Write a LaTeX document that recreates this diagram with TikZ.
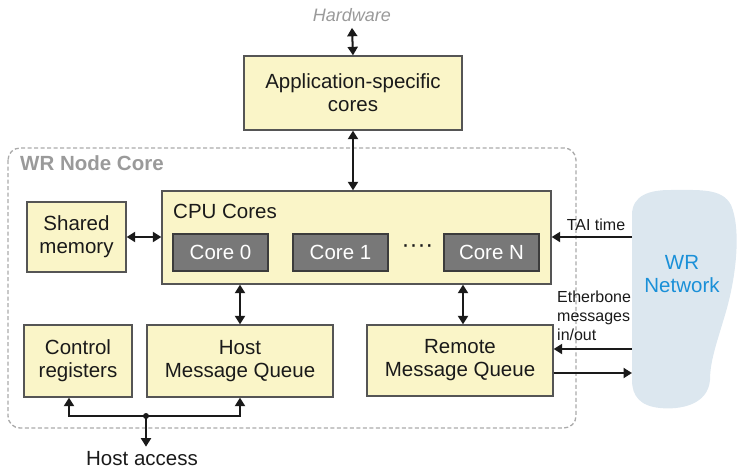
\documentclass[tikz,border=0pt]{standalone}
\usepackage{fontspec}
\setmainfont{Liberation Sans}
\usetikzlibrary{arrows.meta}
\definecolor{boxfill}{HTML}{FAF5C8}
\definecolor{boxline}{HTML}{555555}
\definecolor{corefill}{HTML}{787878}
\definecolor{coreline}{HTML}{3C3C3C}
\definecolor{graytxt}{HTML}{9A9A9A}
\definecolor{netblue}{HTML}{1A90D8}
\definecolor{cloudfill}{HTML}{DCE7EF}
\definecolor{txt}{HTML}{1A1A1A}
\definecolor{dashgray}{HTML}{AAAAAA}
\begin{document}
\begin{tikzpicture}[x=1pt,y=-1pt,
  blk/.style={draw=boxline, line width=1.3pt, fill=boxfill, inner sep=0pt, text=txt,
    font=\fontsize{20.5}{23}\selectfont, align=center},
  corebox/.style={draw=coreline, line width=1.3pt, fill=corefill, inner sep=0pt, text=white,
    font=\fontsize{20.5}{23}\selectfont, minimum width=95pt, minimum height=37pt},
  tip/.tip={Triangle[length=8.5pt,width=10pt]},
  arr/.style={line width=2pt, draw=txt, -tip},
  biarr/.style={line width=2pt, draw=txt, tip-tip},
  smalltxt/.style={text=txt, font=\fontsize{16}{19}\selectfont, inner sep=0pt}
]
\useasboundingbox (0,0) rectangle (737,469);

% WR Node Core frame
\draw[dashgray, line width=1.3pt, dash pattern=on 4pt off 2.5pt, rounded corners=12pt] (8,148) rectangle (576,428);
\node[anchor=west, text=graytxt, font=\fontsize{20.5}{23}\selectfont\bfseries, inner sep=0pt] (wrcore) at (20,163) {WR Node Core};

% Cloud
\path[fill=cloudfill] (632,380) -- (632,215)
  .. controls (632,195) and (650,190) .. (670,190)
  .. controls (700,190) and (722,188) .. (731,205)
  .. controls (741,228) and (737,275) .. (725,315)
  .. controls (716,345) and (710,362) .. (710,380)
  .. controls (708,405) and (680,410) .. (660,408)
  .. controls (640,406) and (632,396) .. (632,380) -- cycle;
\node[text=netblue, font=\fontsize{20.5}{23}\selectfont, align=center, inner sep=0pt] (net) at (682,274) {WR\\Network};

% Hardware + application cores
\node[text=graytxt, font=\fontsize{18}{21}\selectfont\itshape, inner sep=0pt] (hw) at (352,15) {Hardware};
\node[blk, minimum width=218pt, minimum height=74pt] (app) at (353,93) {Application-specific\\cores};

% CPU cores
\node[blk, minimum width=389pt, minimum height=93pt] (cpu) at (356.5,237.5) {};
\node[anchor=west, text=txt, font=\fontsize{20.5}{23}\selectfont, inner sep=0pt] (cpulbl) at (173,211) {CPU Cores};
\node[corebox] (core0) at (220.5,252.5) {Core 0};
\node[corebox] (core1) at (340.5,252.5) {Core 1};
\node[corebox] (coreN) at (491.5,252.5) {Core N};
\node[text=txt, font=\fontsize{24}{24}\selectfont, inner sep=0pt] (dots) at (417.5,249) {····};

% Other blocks
\node[blk, minimum width=99pt, minimum height=70pt] (shm) at (76.5,237) {Shared\\memory};
\node[blk, minimum width=108pt, minimum height=72pt] (ctrl) at (78,361) {Control\\registers};
\node[blk, minimum width=186pt, minimum height=72pt] (hmq) at (240,361) {Host\\Message Queue};
\node[blk, minimum width=186pt, minimum height=71pt] (rmq) at (460,360.5) {Remote\\Message Queue};

% Connectors
\draw[biarr] ([yshift=-6pt]hw.south) -- (app.north);
\draw[biarr] (app.south) -- (app.south |- cpu.north);
\draw[biarr] (shm.east) -- (cpu.west |- shm.east);
\draw[biarr] (hmq.north |- cpu.south) -- (hmq.north);
\draw[biarr] ([xshift=3pt]rmq.north |- cpu.south) -- ([xshift=3pt]rmq.north);

% Network links
\coordinate (tai) at (632,237);
\coordinate (ein) at (632,349);
\coordinate (eout) at (632,373);
\draw[arr] (tai) -- (cpu.east |- tai);
\node[smalltxt] (tailbl) at (596,225) {TAI time};
\draw[arr] (ein) -- (rmq.east |- ein);
\draw[arr] (rmq.east |- eout) -- (eout);
\node[smalltxt, anchor=north west, align=left] (eblbl) at (557,291) {Etherbone\\messages\\in/out};

% Host access
\coordinate (j) at (146,416);
\node[text=txt, font=\fontsize{20.5}{23}\selectfont, inner sep=0pt] (ha) at (142,459) {Host access};
\draw[arr] (j) -| ([xshift=-9pt]ctrl.south);
\draw[arr] (j) -| (hmq.south);
\draw[arr] (j) -- ([yshift=5pt]j |- ha.north);
\fill[txt] (j) circle (3pt);
\end{tikzpicture}
\end{document}
